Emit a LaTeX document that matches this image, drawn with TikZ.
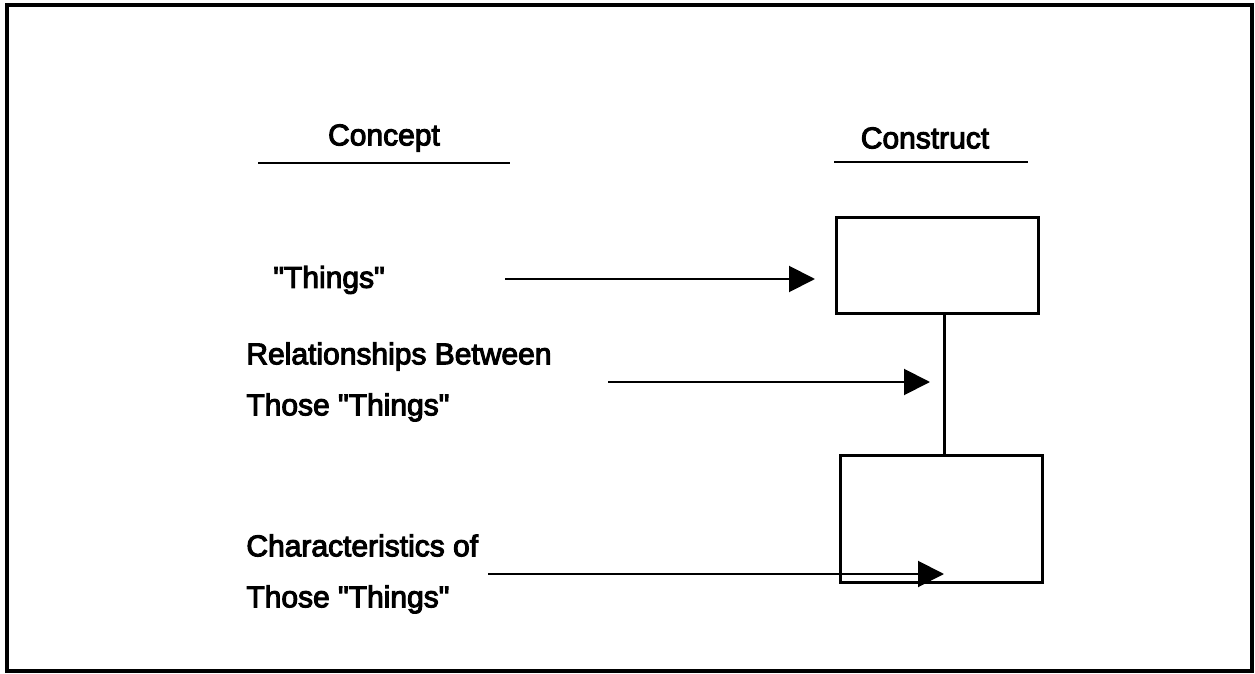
\documentclass[tikz,border=0pt]{standalone}
\usepackage{fontspec}
\setmainfont{Liberation Sans}[FakeBold=3.5,Ligatures=TeXOff]
\usetikzlibrary{%
	calc,%
	arrows.meta%
}
\newcommand{\qt}[1]{"#1"}

\begin{document}
\begin{tikzpicture}[x=0.5pt,y=-0.5pt,
		lbl/.style={font={\fontsize{15}{25.5}\selectfont},inner sep=0pt,align=left},
		cbox/.style={draw,line width=1.5pt,inner sep=0pt},
		arr/.style={line width=1pt,-{Triangle[length=13pt,width=13pt]}}]
			\useasboundingbox (0,0) rectangle (1255,674);
			\draw[line width=1.6pt] (7,5) rectangle (1252,671);
			% headings
			\node[lbl] (concept) at (384,138) {Concept};
			\node[lbl] (construct) at (925,138) {Construct};
			\draw[line width=1.3pt] (258,163) -- (510,163)
			(834,162) -- (1028,162);
			% left column
			\node[lbl,anchor=west] (things) at (273,280) {\qt{Things}};
			\node[lbl,anchor=west] (rel) at (246,382) {Relationships Between\\Those \qt{Things}};
			\node[lbl,anchor=west] (char) at (246,574) {Characteristics of\\Those \qt{Things}};
			% construct boxes
			\node[cbox,minimum width=101pt,minimum height=48pt] (top) at (937,265.5) {};
			\node[cbox,minimum width=101pt,minimum height=63.5pt] (bot) at (941,518.5) {};
			\draw[line width=1.5pt] ([xshift=3.5pt]top.south) -- ([xshift=3.5pt]top.south |- bot.north);
			% arrows
			\coordinate (s1) at (505,279);
			\coordinate (e1) at (815,279);
			\coordinate (s2) at (608,382);
			\coordinate (e2) at (930,382);
			\coordinate (s3) at (488,574);
			\coordinate (e3) at (944,574);
			\path (s1) edge[arr] (e1)
			(s2) edge[arr] (e2)
			(s3) edge[arr] (e3);
		\end{tikzpicture}
\end{document}
